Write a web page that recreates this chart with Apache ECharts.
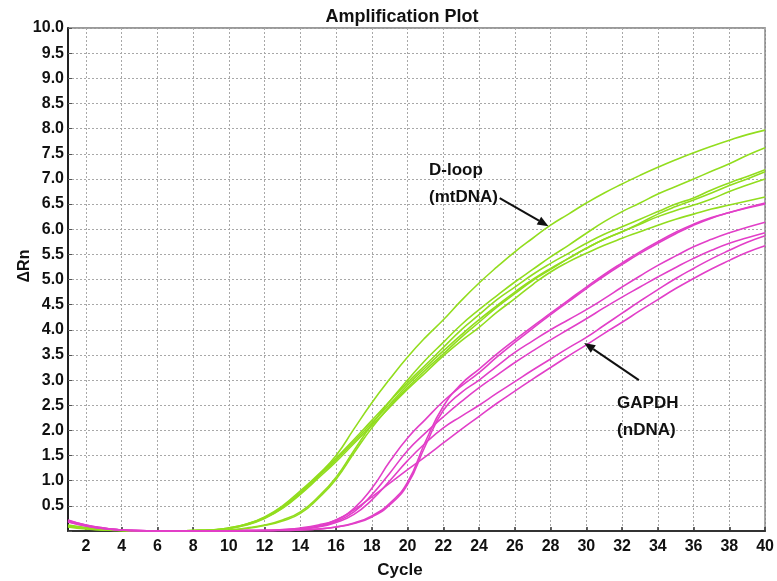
<!DOCTYPE html>
<html><head><meta charset="utf-8">
<script src="https://cdn.jsdelivr.net/npm/echarts@6/dist/echarts.min.js"></script>
<style>html,body{margin:0;padding:0;background:#fff}#c{width:777px;height:581px}</style>
</head><body><div id="c"></div>
<script>
const cycles = [1,2,3,4,5,6,7,8,9,10,11,12,13,14,15,16,17,18,19,20,21,22,23,24,25,26,27,28,29,30,31,32,33,34,35,36,37,38,39,40];
const xTicks = [2,4,6,8,10,12,14,16,18,20,22,24,26,28,30,32,34,36,38,40];

// D-loop (mtDNA) curves
const dloop1 = [0.12,0.07,0.03,0.01,0,0,0,0.01,0.02,0.06,0.14,0.28,0.5,0.8,1.12,1.5,2.03,2.55,3.02,3.46,3.85,4.2,4.58,4.93,5.25,5.55,5.82,6.08,6.3,6.52,6.72,6.9,7.07,7.23,7.38,7.52,7.65,7.77,7.88,7.97];
const dloop2 = [0.1,0.05,0.02,0.01,0,0,0,0,0.01,0.02,0.06,0.12,0.22,0.38,0.68,1.07,1.6,2.12,2.58,3.0,3.4,3.75,4.1,4.4,4.68,4.95,5.2,5.45,5.68,5.92,6.15,6.35,6.52,6.7,6.85,7.0,7.15,7.3,7.47,7.62];
const dloop3 = [0.1,0.06,0.03,0.01,0,0,0,0.01,0.02,0.06,0.14,0.27,0.48,0.77,1.1,1.45,1.82,2.2,2.58,2.95,3.3,3.65,4.0,4.3,4.6,4.85,5.1,5.32,5.52,5.72,5.9,6.05,6.2,6.35,6.5,6.62,6.78,6.92,7.05,7.18];
const dloop4 = [0.08,0.04,0.02,0.01,0,0,0,0,0.01,0.02,0.05,0.11,0.2,0.35,0.65,1.03,1.55,2.05,2.48,2.85,3.2,3.52,3.85,4.15,4.45,4.72,4.98,5.2,5.42,5.62,5.8,5.95,6.12,6.3,6.45,6.58,6.72,6.87,7.0,7.14];
const dloop5 = [0.09,0.05,0.02,0.01,0,0,0,0.01,0.02,0.05,0.13,0.26,0.46,0.75,1.08,1.42,1.78,2.15,2.52,2.9,3.25,3.58,3.9,4.2,4.48,4.75,5.0,5.22,5.42,5.62,5.8,5.95,6.1,6.25,6.37,6.48,6.6,6.75,6.88,7.0];
const dloop6 = [0.11,0.06,0.03,0.01,0,0,0,0.01,0.02,0.05,0.12,0.25,0.45,0.73,1.05,1.38,1.74,2.1,2.46,2.82,3.15,3.48,3.78,4.05,4.35,4.62,4.9,5.15,5.35,5.52,5.68,5.82,5.95,6.08,6.2,6.3,6.4,6.48,6.56,6.64];

// GAPDH (nDNA) curves
const gapdh1 = [0.22,0.12,0.06,0.02,0.01,0,0,0,0,0,0.01,0.01,0.02,0.05,0.1,0.22,0.45,0.85,1.38,1.85,2.22,2.58,2.88,3.15,3.46,3.75,4.03,4.3,4.56,4.82,5.07,5.3,5.52,5.72,5.91,6.08,6.22,6.33,6.43,6.52];
const gapdh2 = [0.2,0.11,0.05,0.02,0,0,0,0,0,0,0,0.01,0.01,0.02,0.04,0.08,0.16,0.3,0.55,0.97,1.78,2.48,2.92,3.22,3.52,3.8,4.07,4.33,4.59,4.85,5.1,5.33,5.55,5.75,5.94,6.1,6.23,6.33,6.42,6.5];
const gapdh3 = [0.18,0.1,0.05,0.02,0,0,0,0,0,0,0,0.01,0.01,0.02,0.04,0.08,0.15,0.28,0.52,0.93,1.7,2.4,2.75,3.0,3.28,3.55,3.78,4.0,4.2,4.4,4.62,4.85,5.07,5.28,5.47,5.65,5.8,5.93,6.04,6.14];
const gapdh4 = [0.2,0.11,0.05,0.02,0.01,0,0,0,0,0,0.01,0.01,0.02,0.04,0.09,0.19,0.38,0.72,1.15,1.6,1.95,2.27,2.57,2.85,3.1,3.35,3.58,3.8,4.01,4.22,4.44,4.65,4.85,5.05,5.24,5.42,5.58,5.72,5.83,5.93];
const gapdh5 = [0.19,0.1,0.05,0.02,0,0,0,0,0,0,0.01,0.01,0.02,0.04,0.08,0.17,0.33,0.62,1.0,1.4,1.75,2.05,2.28,2.5,2.74,2.97,3.2,3.42,3.64,3.85,4.09,4.33,4.57,4.8,5.02,5.22,5.41,5.58,5.74,5.87];
const gapdh6 = [0.21,0.12,0.06,0.02,0.01,0,0,0,0,0,0.01,0.01,0.03,0.06,0.12,0.22,0.42,0.68,0.95,1.22,1.48,1.75,2.02,2.28,2.54,2.78,3.02,3.25,3.48,3.7,3.93,4.15,4.38,4.6,4.82,5.02,5.21,5.38,5.54,5.67];

const greenSeries = [dloop1, dloop2, dloop3, dloop4, dloop5, dloop6];
const pinkSeries = [gapdh1, gapdh2, gapdh3, gapdh4, gapdh5, gapdh6];

// annotations in data units (cycle, ΔRn)
const labelTexts = [
  {text:'D-loop', x:21.2, y:7.18},
  {text:'(mtDNA)', x:21.2, y:6.64},
  {text:'GAPDH', x:31.72, y:2.54},
  {text:'(nDNA)', x:31.72, y:2.0}
];
const arrows = [
  {from:[25.15, 6.62], to:[27.88, 6.06]},
  {from:[32.94, 3.0], to:[29.88, 3.74]}
];

const GREEN = '#92dd1e';
const PINK = '#e23fc8';
const FONT = '"Liberation Sans", Arial, sans-serif';

const chart = echarts.init(document.getElementById('c'), null, {renderer:'canvas'});
const mk = (arr, color) => ({
  type:'line', data: cycles.map((c,i)=>[c, arr[i]]), showSymbol:false, smooth:0.5,
  lineStyle:{color, width:1.6}, itemStyle:{color}, z: 3, silent:true
});
const series = [];
greenSeries.forEach(a=>series.push(mk(a, GREEN)));
pinkSeries.forEach(a=>series.push(mk(a, PINK)));

const gridLine = {show:true, lineStyle:{color:'#a8a8a8', width:1, type:[2,2]}};
chart.setOption({
  animation:false,
  backgroundColor:'#fff',
  grid:{left:68, right:8, top:28, bottom:50, show:true, borderColor:'#7a7a7a', borderWidth:1.5, backgroundColor:'transparent'},
  xAxis:{type:'value', min:1, max:40,
    axisLine:{show:true, lineStyle:{color:'#333', width:2}},
    axisTick:{show:true, inside:true, length:4, customValues:xTicks, lineStyle:{color:'#333', width:1.5}},
    axisLabel:{customValues:xTicks, color:'#111', fontFamily:FONT, fontWeight:'bold', fontSize:16, margin:8},
    splitLine:gridLine},
  yAxis:{type:'value', min:0, max:10, interval:0.5,
    axisLine:{show:true, onZero:false, lineStyle:{color:'#222', width:2}},
    axisTick:{show:true, inside:true, length:4, lineStyle:{color:'#555'}},
    axisLabel:{color:'#111', fontFamily:FONT, fontWeight:'bold', fontSize:16, margin:4,
      formatter:v => v===0 ? '' : v.toFixed(1)},
    splitLine:gridLine},
  series
});

const g = [];
g.push({type:'text', style:{text:'Amplification Plot', x:402, y:17, fill:'#111', font:'bold 18px '+FONT, textAlign:'center', textVerticalAlign:'middle'}});
g.push({type:'text', style:{text:'Cycle', x:400, y:570, fill:'#111', font:'bold 17px '+FONT, textAlign:'center', textVerticalAlign:'middle'}});
g.push({type:'text', x:25, y:266, rotation:Math.PI/2, style:{text:'ΔRn', x:0, y:0, fill:'#111', font:'bold 16px '+FONT, textAlign:'center', textVerticalAlign:'middle'}});
labelTexts.forEach(t=>{
  const p = chart.convertToPixel({gridIndex:0}, [t.x, t.y]);
  g.push({type:'text', style:{text:t.text, x:p[0], y:p[1], fill:'#111', font:'bold 17px '+FONT, textAlign:'left', textVerticalAlign:'middle'}, z:10});
});
arrows.forEach(a=>{
  const p0 = chart.convertToPixel({gridIndex:0}, a.from);
  const p1 = chart.convertToPixel({gridIndex:0}, a.to);
  const dx = p1[0]-p0[0], dy = p1[1]-p0[1], L = Math.hypot(dx,dy);
  const ux = dx/L, uy = dy/L, hl = 11, hw = 4.5;
  const bx = p1[0]-ux*hl, by = p1[1]-uy*hl;
  g.push({type:'line', shape:{x1:p0[0], y1:p0[1], x2:bx, y2:by}, style:{stroke:'#111', lineWidth:2}, z:10});
  g.push({type:'polygon', shape:{points:[[p1[0],p1[1]],[bx-uy*hw, by+ux*hw],[bx+uy*hw, by-ux*hw]]}, style:{fill:'#111'}, z:10});
});
chart.setOption({graphic:g});
</script>
</body></html>
